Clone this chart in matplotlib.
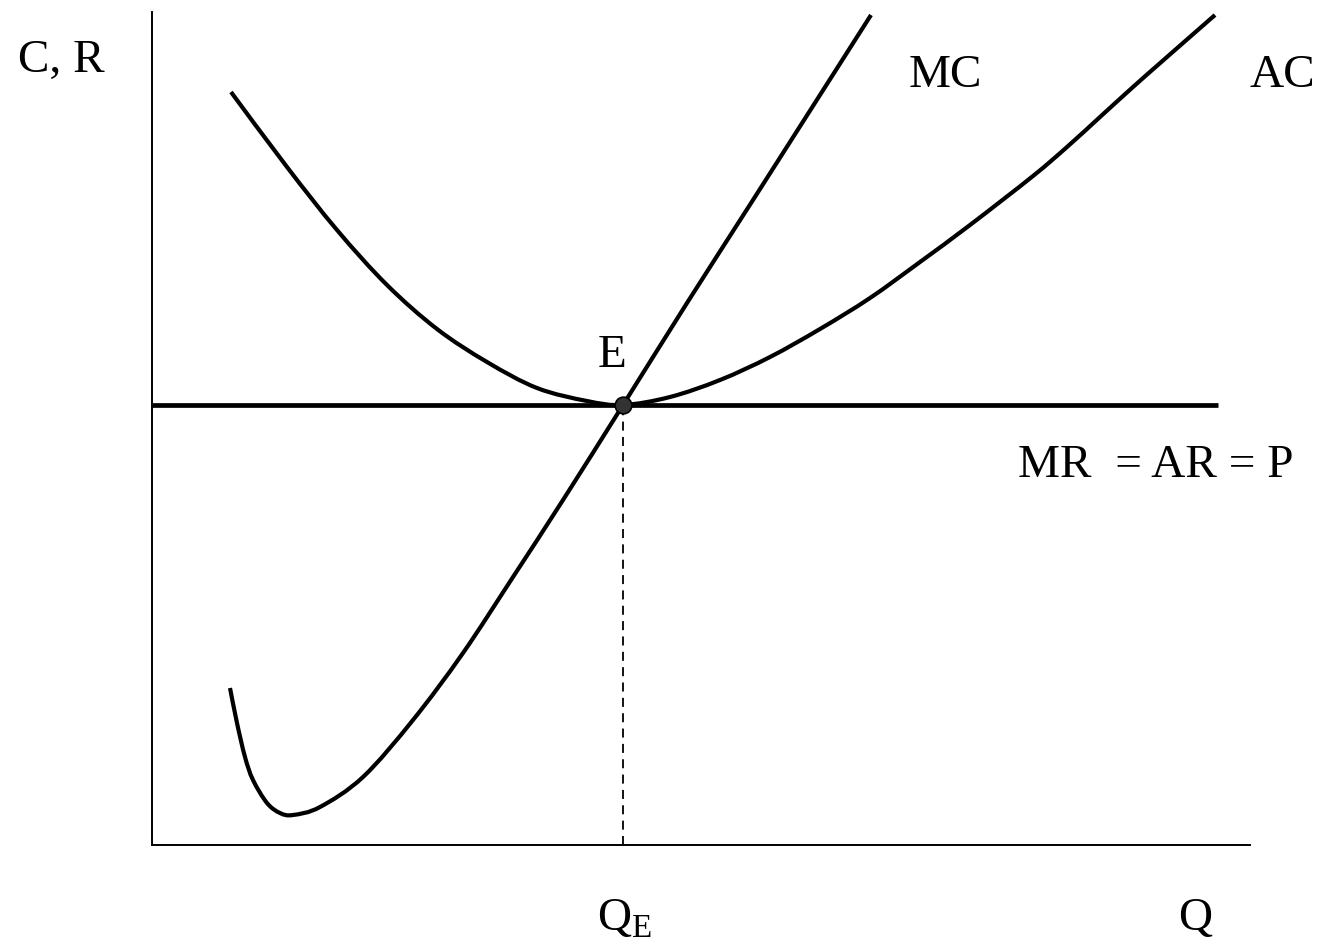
import numpy as np
import matplotlib
matplotlib.use("Agg")
import matplotlib.pyplot as plt
from matplotlib.path import Path
from matplotlib.patches import PathPatch

plt.rcParams['font.family'] = ['Liberation Serif', 'DejaVu Serif']
plt.rcParams['mathtext.fontset'] = 'custom'
plt.rcParams['mathtext.rm'] = 'Liberation Serif'

# 边际成本 MC
mc_q = [0.78, 0.85, 0.93, 1.01, 1.15, 1.28, 1.41, 1.68, 2.11, 2.61, 3.11,
        3.61, 4.11, 4.71, 5.35, 6.01, 7.19]
mc_c = [1.57, 1.22, 0.88, 0.65, 0.42, 0.32, 0.30, 0.38, 0.68, 1.25, 1.92,
        2.68, 3.45, 4.40, 5.42, 6.45, 8.30]

# 平均成本 AC
ac_q = [0.79, 1.35, 1.85, 2.35, 2.85, 3.35, 3.85, 4.35, 4.71, 5.18, 5.68,
        6.18, 6.68, 7.18, 7.68, 8.18, 8.81, 9.15, 9.48, 9.81, 10.15, 10.63]
ac_c = [7.53, 6.78, 6.15, 5.60, 5.16, 4.83, 4.57, 4.44, 4.40, 4.48, 4.65,
        4.88, 5.16, 5.47, 5.83, 6.20, 6.69, 6.98, 7.28, 7.58, 7.88, 8.30]

# MR = AR = P
price = 4.40
mr_q = [0.0, 10.66]

# 均衡点 E
q_e = 4.71
c_e = 4.40


# 用贝塞尔曲线把读出的点平滑地连起来
def smooth_path(xs, ys):
    p = np.column_stack([xs, ys])
    n = len(p)
    verts = [p[0]]
    codes = [Path.MOVETO]
    for i in range(n - 1):
        p0 = p[max(i - 1, 0)]
        p1 = p[i]
        p2 = p[i + 1]
        p3 = p[min(i + 2, n - 1)]
        verts += [p1 + (p2 - p0) / 6, p2 - (p3 - p1) / 6, p2]
        codes += [Path.CURVE4] * 3
    return Path(verts, codes)


fig = plt.figure(figsize=(13.22, 9.48), dpi=100)
ax = fig.add_axes([152/1322, (948-845)/948, (1250-152)/1322, (845-12)/948])
ax.set_xlim(0, 10.98)
ax.set_ylim(0, 8.33)
for s in ['top', 'right']:
    ax.spines[s].set_visible(False)
for s in ['left', 'bottom']:
    ax.spines[s].set_linewidth(1.4)
ax.set_xticks([])
ax.set_yticks([])

lw = 3.0
ax.plot(mr_q, [price, price], color='black', lw=3.4, solid_capstyle='butt', clip_on=False)
for xs, ys in [(ac_q, ac_c), (mc_q, mc_c)]:
    ax.add_patch(PathPatch(smooth_path(xs, ys), fill=False, edgecolor='black', lw=lw,
                           capstyle='butt', joinstyle='round', clip_on=False))
ax.plot([q_e, q_e], [0, c_e], color='black', lw=1.3, ls=(0, (5, 3.5)))
ax.plot([q_e], [c_e], 'o', ms=12, mfc='#333333', mec='black', mew=1.2, zorder=5, clip_on=False)

fs = 34
ax.text(-1.34, 7.73, 'C, R', fontsize=fs, ha='left', va='baseline')
ax.text(7.57, 7.58, 'MC', fontsize=fs, ha='left', va='baseline')
ax.text(10.98, 7.58, 'AC', fontsize=fs, ha='left', va='baseline')
ax.text(4.60, 4.78, 'E', fontsize=fs, ha='center', va='baseline')
ax.text(8.66, 3.68, 'MR  = AR = P', fontsize=fs, ha='left', va='baseline')
ax.text(4.45, -0.85, r'$\mathrm{Q}_{\mathrm{E}}$', fontsize=fs, ha='left', va='baseline')
ax.text(10.43, -0.85, 'Q', fontsize=fs, ha='center', va='baseline')

fig.savefig('out.png', dpi=100)
